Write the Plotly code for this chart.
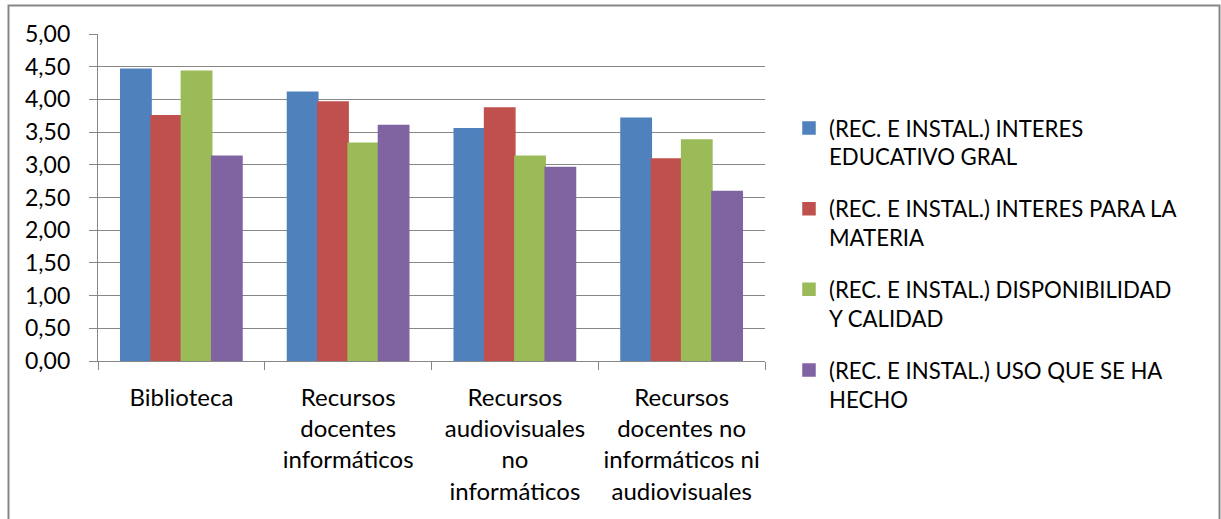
import plotly.graph_objects as go

categories = [
    "Biblioteca",
    "Recursos<br>docentes<br>informáticos",
    "Recursos<br>audiovisuales<br>no<br>informáticos",
    "Recursos<br>docentes no<br>informáticos ni<br>audiovisuales",
]

series_names = [
    "(REC. E INSTAL.) INTERES<br>EDUCATIVO GRAL",
    "(REC. E INSTAL.) INTERES PARA LA<br>MATERIA",
    "(REC. E INSTAL.) DISPONIBILIDAD<br>Y CALIDAD",
    "(REC. E INSTAL.) USO QUE SE HA<br>HECHO",
]

interes_educativo = [4.46, 4.11, 3.55, 3.71]
interes_materia = [3.75, 3.96, 3.87, 3.09]
disponibilidad = [4.43, 3.33, 3.13, 3.38]
uso = [3.13, 3.60, 2.96, 2.59]

series_values = [interes_educativo, interes_materia, disponibilidad, uso]
colors = ["#4F81BD", "#C0504D", "#9BBB59", "#8064A2"]

FONT = "Lato"
GRID = "#878787"

fig = go.Figure()
for i, (name, vals, col) in enumerate(zip(series_names, series_values, colors)):
    fig.add_trace(go.Bar(
        x=categories, y=vals, name=name,
        marker=dict(color=col, line=dict(width=1.5, color=col)),
        legendgroup=f"g{i}",
    ))

W, H = 1221, 519
L, R, T, B = 98, 456, 34, 158
pw, ph = W - L - R, H - T - B


def px_x(v):
    return (v - L) / pw


def px_y(v):
    return (H - B - v) / ph


fig.update_layout(
    width=W, height=H,
    margin=dict(l=L, r=R, t=T, b=B),
    paper_bgcolor="white", plot_bgcolor="white",
    barmode="group", bargap=0.2727, bargroupgap=0,
    separators=", ",
    font=dict(family=FONT, size=22, color="#000000"),
    legend=dict(
        x=px_x(789), y=px_y(107), xanchor="left", yanchor="top",
        font=dict(family=FONT, size=22.2, color="#000000"),
        valign="top", tracegroupgap=20,
        bgcolor="rgba(0,0,0,0)",
    ),
    showlegend=True,
    shapes=[dict(
        type="rect", xref="paper", yref="paper",
        x0=px_x(8.5), x1=px_x(1219.5), y0=px_y(560), y1=px_y(5.5),
        line=dict(color=GRID, width=2), fillcolor="rgba(0,0,0,0)",
        layer="below",
    )],
)

fig.update_yaxes(
    range=[0, 5], dtick=0.5, tick0=0, tickformat=".2f",
    showgrid=True, gridcolor=GRID, gridwidth=1.3,
    showline=True, linecolor=GRID, linewidth=1.3,
    ticks="outside", ticklen=8, tickcolor=GRID, tickwidth=1.3,
    zeroline=False, ticklabelstandoff=14,
    tickfont=dict(family=FONT, size=23, color="#000000"),
)
fig.update_xaxes(
    showline=True, linecolor=GRID, linewidth=1.3,
    ticks="outside", ticklen=8, tickcolor=GRID, tickwidth=1.3,
    tickson="boundaries", showgrid=False, ticklabelstandoff=15,
    tickfont=dict(family=FONT, size=24, color="#000000"),
)

fig.write_html("out.html")
